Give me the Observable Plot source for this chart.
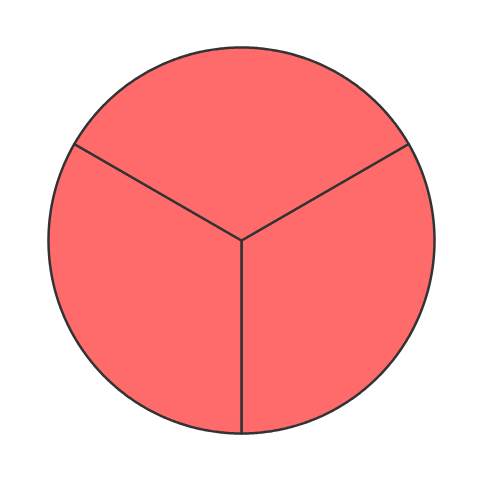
<!DOCTYPE html>
<html>
<head>
<meta charset="utf-8">
<script src="https://cdn.jsdelivr.net/npm/d3@7"></script>
<script src="https://cdn.jsdelivr.net/npm/@observablehq/plot@0.6"></script>
<style>
html,body{margin:0;padding:0;background:#fff;}
</style>
</head>
<body>
<div id="chart"></div>
<script>
const categories = ["A", "B", "C"];
const values = [1, 1, 1];

const data = categories.map((c, i) => ({category: c, value: values[i]}));
const arcs = d3.pie().value(d => d.value).sort(null)
  .startAngle(Math.PI / 3).endAngle(Math.PI / 3 + 2 * Math.PI)(data);

function slicePolygon(a0, a1) {
  const pts = [[0, 0]];
  const n = Math.max(2, Math.ceil((a1 - a0) / (Math.PI / 360)));
  for (let k = 0; k <= n; k++) {
    const a = a0 + (a1 - a0) * k / n;
    pts.push([Math.sin(a), Math.cos(a)]);
  }
  pts.push([0, 0]);
  return pts;
}

const features = {
  type: "FeatureCollection",
  features: arcs.map(a => ({
    type: "Feature",
    properties: {category: a.data.category},
    geometry: {type: "Polygon", coordinates: [slicePolygon(a.startAngle, a.endAngle)]}
  }))
};

const chart = Plot.plot({
  width: 481,
  height: 482,
  marginLeft: 48,
  marginRight: 47,
  marginTop: 47,
  marginBottom: 49,
  projection: {type: "reflect-y", domain: features},
  marks: [
    Plot.geo(features, {fill: "#ff6b6b", stroke: "#333333", strokeWidth: 2.5, strokeLinejoin: "round"})
  ]
});
document.getElementById("chart").appendChild(chart);
</script>
</body>
</html>
